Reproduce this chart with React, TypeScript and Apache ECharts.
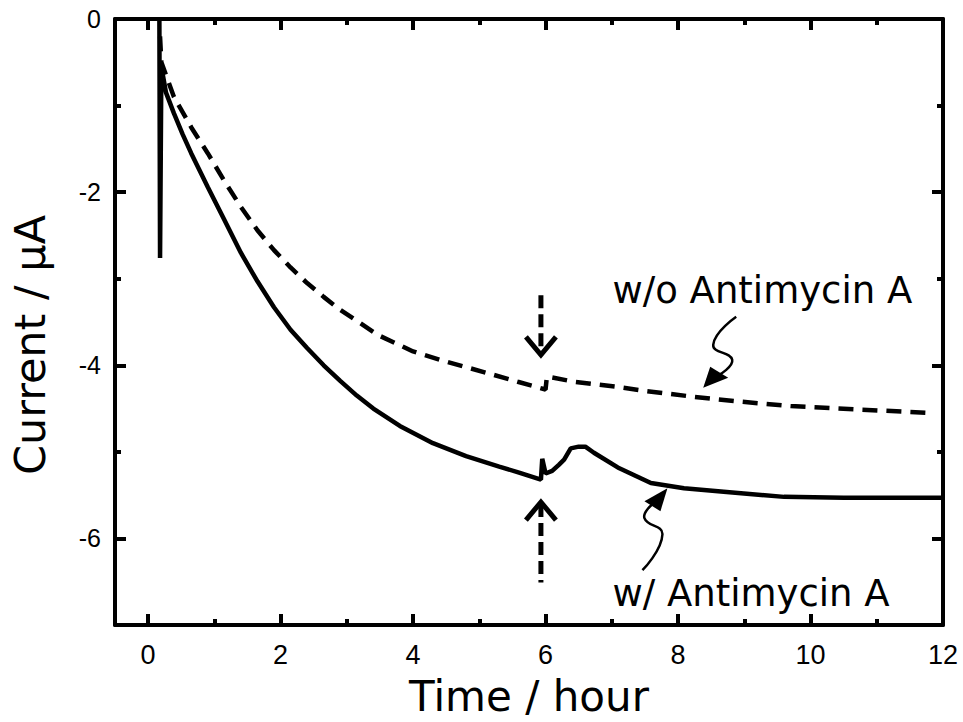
import React, { useEffect, useRef } from "react";
import * as echarts from "echarts";

// w/ Antimycin A (solid)
const withTime = [0.17, 0.18, 0.2, 0.27, 0.39, 0.52, 0.65, 0.9, 1.15, 1.4, 1.65, 1.9, 2.15, 2.4, 2.65, 2.9, 3.15, 3.4, 3.8, 4.3, 4.8, 5.3, 5.6, 5.93, 5.95, 6.0, 6.1, 6.2, 6.28, 6.38, 6.5, 6.6, 6.73, 7.09, 7.59, 8.09, 8.69, 9.6, 10.5, 12.0];
const withCurrent = [0, -2.76, -0.55, -0.85, -1.09, -1.33, -1.55, -1.94, -2.32, -2.7, -3.03, -3.33, -3.59, -3.8, -4.0, -4.18, -4.35, -4.5, -4.7, -4.9, -5.05, -5.17, -5.24, -5.32, -5.08, -5.25, -5.22, -5.15, -5.09, -4.96, -4.94, -4.94, -5.01, -5.18, -5.36, -5.42, -5.46, -5.52, -5.53, -5.53];

// w/o Antimycin A (dashed)
const withoutTime = [0.18, 0.2, 0.39, 0.65, 0.9, 1.15, 1.4, 1.65, 1.9, 2.15, 2.4, 2.65, 2.9, 3.47, 4.0, 4.42, 5.12, 5.58, 6.0, 6.02, 6.43, 7.09, 7.44, 8.19, 8.94, 9.7, 10.7, 11.8];
const withoutCurrent = [-0.2, -0.5, -0.9, -1.25, -1.55, -1.87, -2.17, -2.44, -2.67, -2.87, -3.05, -3.21, -3.36, -3.65, -3.84, -3.94, -4.09, -4.19, -4.28, -4.13, -4.19, -4.25, -4.29, -4.36, -4.42, -4.47, -4.51, -4.55];

const xMajorTicks = [0, 2, 4, 6, 8, 10, 12];
const xMinorTicks = [1, 3, 5, 7, 9, 11];
const yMajorTicks = [-6, -4, -2, 0];
const yMinorTicks = [-5, -3, -1];

// annotations (data coordinates)
const injectionTime = 5.93;
const downArrowFrom = -3.19;
const downArrowTo = -3.88;
const upArrowFrom = -6.51;
const upArrowTo = -5.58;
const labelWithout = { x: 7.01, y: -3.14, text: "w/o Antimycin A" };
const labelWith = { x: 7.01, y: -6.64, text: "w/ Antimycin A" };
const tipWithout = [8.38, -4.26];
const tipWith = [7.84, -5.42];

const BLACK = "#000";
const NAME_FONT = "'DejaVu Sans', sans-serif";
const TICK_FONT = "'Liberation Sans', Arial, sans-serif";

function xAxisDef(position: "bottom" | "top", ticks: number[], len: number, main: boolean) {
  return {
    type: "value",
    position,
    min: -0.5,
    max: 12,
    axisLine: { show: main, onZero: false, lineStyle: { color: BLACK, width: 4 } },
    axisTick: { show: true, inside: true, length: len, customValues: ticks, lineStyle: { color: BLACK, width: 4 } },
    axisLabel:
      main && position === "bottom"
        ? { show: true, customValues: xMajorTicks, fontSize: 27, color: BLACK, margin: 16, fontFamily: TICK_FONT }
        : { show: false },
    splitLine: { show: false },
    ...(main && position === "bottom"
      ? {
          name: "Time / hour",
          nameLocation: "middle",
          nameGap: 50,
          nameTextStyle: { fontSize: 42, color: BLACK, fontFamily: NAME_FONT },
        }
      : {}),
  };
}

function yAxisDef(position: "left" | "right", ticks: number[], len: number, main: boolean) {
  return {
    type: "value",
    position,
    min: -7,
    max: 0,
    axisLine: { show: main, onZero: false, lineStyle: { color: BLACK, width: 4 } },
    axisTick: { show: true, inside: true, length: len, customValues: ticks, lineStyle: { color: BLACK, width: 4 } },
    axisLabel:
      main && position === "left"
        ? { show: true, customValues: yMajorTicks, fontSize: 25, color: BLACK, margin: 14, fontFamily: TICK_FONT }
        : { show: false },
    splitLine: { show: false },
    ...(main && position === "left"
      ? {
          name: "Current / µA",
          nameLocation: "middle",
          nameGap: 64,
          nameTextStyle: { fontSize: 43, color: BLACK, fontFamily: NAME_FONT, padding: [0, 46, 0, 0] },
        }
      : {}),
  };
}

export default function App() {
  const ref = useRef<HTMLDivElement>(null);

  useEffect(() => {
    if (!ref.current) return;
    const chart = echarts.init(ref.current, null, { renderer: "svg" });

    const option: any = {
      animation: false,
      backgroundColor: "#fff",
      grid: { left: 114, right: 20, top: 19, bottom: 97, containLabel: false },
      xAxis: [
        xAxisDef("bottom", xMajorTicks, 11, true),
        xAxisDef("bottom", xMinorTicks, 6, false),
        xAxisDef("top", xMajorTicks, 11, true),
        xAxisDef("top", xMinorTicks, 6, false),
      ],
      yAxis: [
        yAxisDef("left", yMajorTicks, 11, true),
        yAxisDef("left", yMinorTicks, 6, false),
        yAxisDef("right", yMajorTicks, 11, true),
        yAxisDef("right", yMinorTicks, 6, false),
      ],
      series: [
        {
          name: "w/ Antimycin A",
          type: "line",
          xAxisIndex: 0,
          yAxisIndex: 0,
          data: withTime.map((t, i) => [t, withCurrent[i]]),
          showSymbol: false,
          symbol: "none",
          lineStyle: { color: BLACK, width: 4.5 },
          z: 3,
        },
        {
          name: "w/o Antimycin A",
          type: "line",
          xAxisIndex: 0,
          yAxisIndex: 0,
          data: withoutTime.map((t, i) => [t, withoutCurrent[i]]),
          showSymbol: false,
          symbol: "none",
          lineStyle: { color: BLACK, width: 4.5, type: [15, 9] },
          z: 2,
        },
      ],
    };
    chart.setOption(option);

    const px = (x: number, y: number) => chart.convertToPixel({ seriesIndex: 0 }, [x, y]) as number[];
    const off = (base: number[], pts: number[][]) => pts.map(([dx, dy]) => [base[0] + dx, base[1] + dy]);

    const dTop = px(injectionTime, downArrowFrom);
    const dTip = px(injectionTime, downArrowTo);
    const uBot = px(injectionTime, upArrowFrom);
    const uTip = px(injectionTime, upArrowTo);
    const wo = px(labelWithout.x, labelWithout.y);
    const w = px(labelWith.x, labelWith.y);
    const tWo = px(tipWithout[0], tipWithout[1]);
    const tW = px(tipWith[0], tipWith[1]);

    const graphic: any[] = [
      {
        type: "line",
        shape: { x1: dTop[0], y1: dTop[1], x2: dTip[0], y2: dTip[1] - 2 },
        style: { stroke: BLACK, lineWidth: 5, lineDash: [13, 6] },
      },
      {
        type: "polyline",
        shape: { points: off(dTip, [[-15, -18], [0, 0], [15, -18]]) },
        style: { stroke: BLACK, lineWidth: 5, fill: "none" },
      },
      {
        type: "line",
        shape: { x1: uTip[0], y1: uTip[1] + 2, x2: uBot[0], y2: uBot[1] },
        style: { stroke: BLACK, lineWidth: 5, lineDash: [13, 6] },
      },
      {
        type: "polyline",
        shape: { points: off(uTip, [[-15, 18], [0, 0], [15, 18]]) },
        style: { stroke: BLACK, lineWidth: 5, fill: "none" },
      },
      {
        type: "polyline",
        shape: { points: off(tWo, [[33, -71], [10, -43], [29, -28], [16, -13]]), smooth: 0.5 },
        style: { stroke: BLACK, lineWidth: 2.5, fill: "none" },
      },
      {
        type: "polygon",
        shape: { points: off(tWo, [[0, 0], [7, -21], [25, -10]]) },
        style: { fill: BLACK },
      },
      {
        type: "polyline",
        shape: { points: off(tW, [[-25, 82], [-5, 46], [-23, 30], [-15, 16]]), smooth: 0.5 },
        style: { stroke: BLACK, lineWidth: 2.5, fill: "none" },
      },
      {
        type: "polygon",
        shape: { points: off(tW, [[0, 0], [-23, 13], [-7, 23]]) },
        style: { fill: BLACK },
      },
      {
        type: "text",
        x: wo[0],
        y: wo[1],
        style: {
          text: labelWithout.text,
          fontSize: 37,
          fontFamily: NAME_FONT,
          fill: BLACK,
          textAlign: "left",
          textVerticalAlign: "middle",
        },
      },
      {
        type: "text",
        x: w[0],
        y: w[1],
        style: {
          text: labelWith.text,
          fontSize: 37,
          fontFamily: NAME_FONT,
          fill: BLACK,
          textAlign: "left",
          textVerticalAlign: "middle",
        },
      },
    ];
    chart.setOption({ graphic });

    return () => chart.dispose();
  }, []);

  return (
    <div
      ref={ref}
      style={{ position: "fixed", left: 0, top: 0, width: 963, height: 722, background: "#fff" }}
    />
  );
}
